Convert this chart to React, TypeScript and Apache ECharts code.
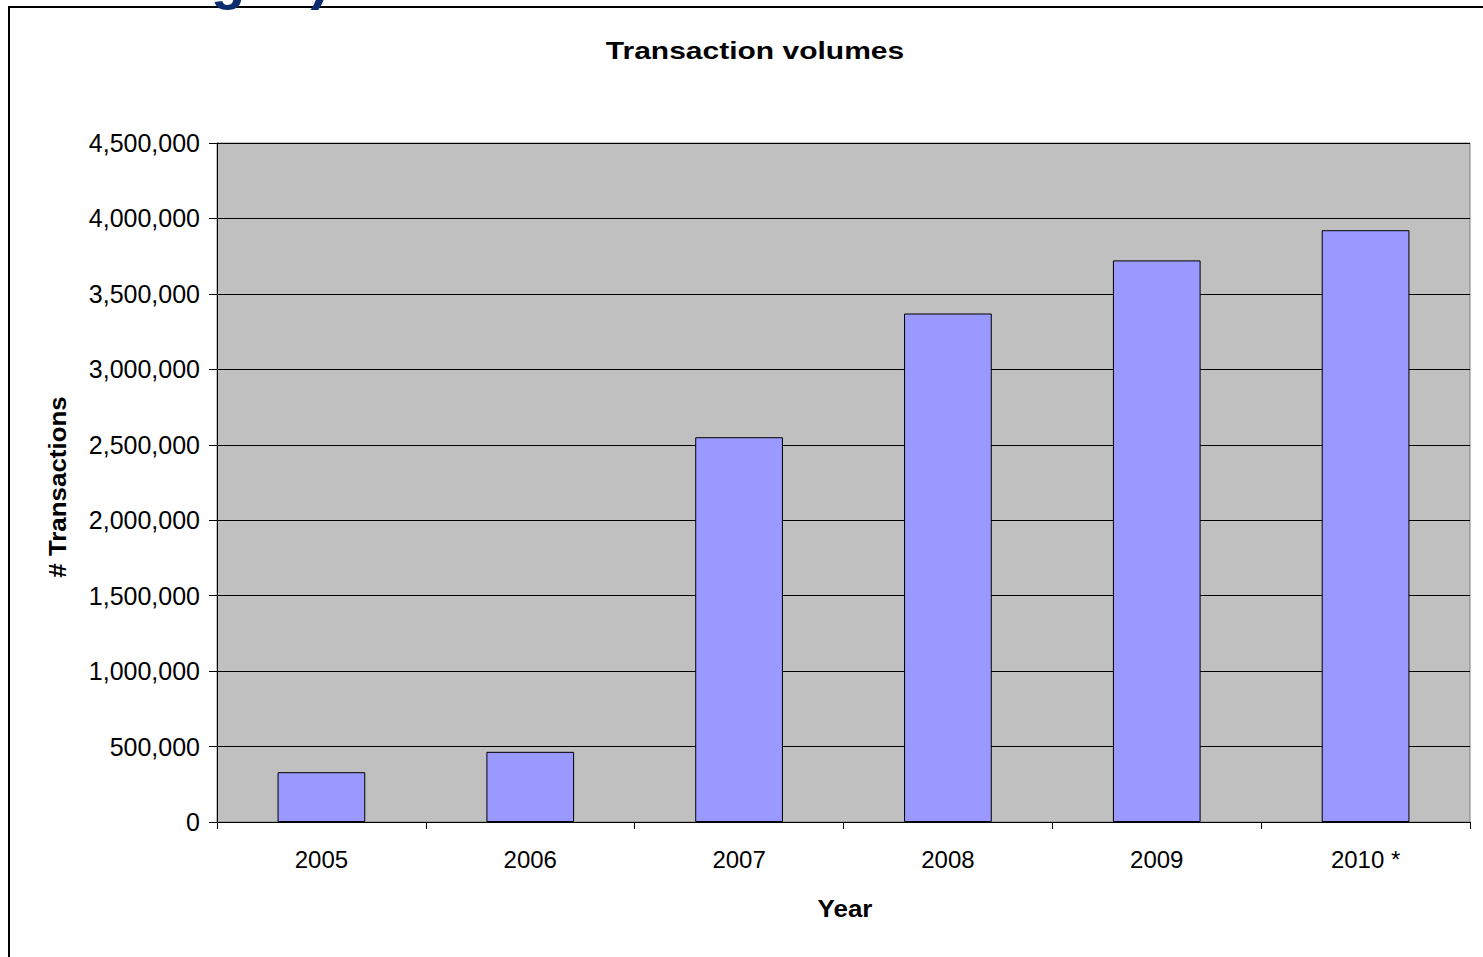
import React, { useEffect, useRef } from "react";
import * as echarts from "echarts";

const categories = ["2005", "2006", "2007", "2008", "2009", "2010 *"];
const transactions = [330000, 465000, 2550000, 3370000, 3722000, 3922000];
const yTicks = { min: 0, max: 4500000, interval: 500000 };
const chartTitle = "Transaction volumes";
const xName = "Year";
const yName = "# Transactions";

const FONT = "'Liberation Sans', Arial, sans-serif";

export default function App() {
  const ref = useRef<HTMLDivElement>(null);
  useEffect(() => {
    const chart = echarts.init(ref.current!, null, { renderer: "svg" });
    chart.setOption({
      animation: false,
      backgroundColor: "#ffffff",
      graphic: [
        {
          type: "rect",
          shape: { x: 9, y: 7, width: 1600, height: 1100 },
          style: { fill: "none", stroke: "#000", lineWidth: 2 },
          silent: true,
        },
        {
          type: "text",
          x: 211,
          y: 6,
          style: {
            text: "gen)",
            font: "bold 56px 'Liberation Sans', Arial, sans-serif",
            fill: "#0B2C6E",
            verticalAlign: "bottom",
            align: "left",
          },
          silent: true,
        },
        {
          type: "text",
          x: 755,
          y: 51,
          scaleX: 1.25,
          style: {
            text: chartTitle,
            font: "bold 24px 'Liberation Sans', Arial, sans-serif",
            fill: "#000",
            align: "center",
            verticalAlign: "middle",
          },
          silent: true,
        },
        {
          type: "text",
          x: 845,
          y: 908,
          scaleX: 1.08,
          style: {
            text: xName,
            font: "bold 24px 'Liberation Sans', Arial, sans-serif",
            fill: "#000",
            align: "center",
            verticalAlign: "middle",
          },
          silent: true,
        },
        {
          type: "text",
          x: 57,
          y: 487,
          rotation: Math.PI / 2,
          scaleX: 1.08,
          style: {
            text: yName,
            font: "bold 24px 'Liberation Sans', Arial, sans-serif",
            fill: "#000",
            align: "center",
            verticalAlign: "middle",
          },
          silent: true,
        },
      ],
      grid: {
        left: 217,
        right: 13,
        top: 143,
        bottom: 135,
        show: true,
        backgroundColor: "#C0C0C0",
        borderColor: "#808080",
        borderWidth: 1,
      },
      xAxis: {
        type: "category",
        data: categories,
        axisLine: { show: true, lineStyle: { color: "#000", width: 1 } },
        axisTick: { show: true, length: 7, lineStyle: { color: "#000" } },
        axisLabel: { fontFamily: FONT, fontSize: 24, color: "#000", margin: 25 },
      },
      yAxis: {
        type: "value",
        min: yTicks.min,
        max: yTicks.max,
        interval: yTicks.interval,
        axisLine: { show: true, lineStyle: { color: "#000", width: 1 } },
        axisTick: { show: true, length: 8, lineStyle: { color: "#000" } },
        axisLabel: {
          fontFamily: FONT,
          fontSize: 25,
          color: "#000",
          margin: 17,
          formatter: (v: number) => v.toLocaleString("en-US"),
        },
        splitLine: { show: true, lineStyle: { color: "#000", width: 1 } },
      },
      series: [
        {
          type: "bar",
          data: transactions,
          barCategoryGap: "58%",
          itemStyle: { color: "#9999FF", borderColor: "#000", borderWidth: 1 },
        },
      ],
    });
    return () => chart.dispose();
  }, []);
  return (
    <div
      ref={ref}
      style={{ position: "fixed", left: 0, top: 0, width: 1483, height: 957 }}
    />
  );
}
